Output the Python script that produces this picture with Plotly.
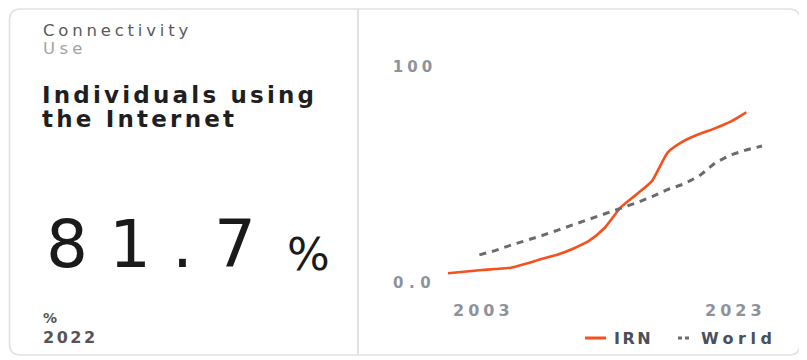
import plotly.graph_objects as go

# ---------------- data ----------------
irn_years = list(range(2003, 2023))
irn_values = [4.5, 5.2, 5.9, 6.5, 7.1, 9.0, 11.2, 13.2, 16.0, 19.6,
              25.7, 35.0, 41.0, 47.3, 60.5, 65.7, 69.0, 71.6, 74.7, 79.0]
world_years = list(range(2005, 2024))
world_values = [13.0, 15.0, 17.5, 19.6, 22.0, 24.5, 27.0, 29.5, 32.0, 34.6,
                37.1, 40.0, 43.3, 45.8, 49.5, 55.5, 59.3, 61.6, 63.4]
series_names = ["IRN", "World"]
series_colors = ["#f4511e", "#6b6b6b"]
y_tick_vals = [0, 100]
y_tick_text = ["0.0", "100"]
x_label_years = [2003, 2023]

headline_value = "81.7"
headline_unit = "%"
unit_label = "%"
latest_year = "2022"
category = "Connectivity"
subcategory = "Use"
title_lines = ["Individuals using", "the Internet"]

# ---------------- layout helpers ----------------
OFF = 8                      # page body margin
PAGE_W, PAGE_H = 807, 360
FW, FH = PAGE_W - OFF, PAGE_H - OFF


def px(x):
    return (x - OFF) / FW


def py(y):
    return 1 - (y - OFF) / FH


def ls(text, spacing):
    return f"<span style='letter-spacing:{spacing}px'>{text}</span>"


FONT = "DejaVu Sans"

fig = go.Figure()
fig.add_trace(go.Scatter(
    x=irn_years, y=irn_values, name=series_names[0], mode="lines",
    line=dict(color=series_colors[0], width=2.6, shape="spline", smoothing=0.6),
    hoverinfo="skip", showlegend=False))
fig.add_trace(go.Scatter(
    x=world_years, y=world_values, name=series_names[1], mode="lines",
    line=dict(color=series_colors[1], width=3, dash="7px,6px"),
    hoverinfo="skip", showlegend=False))

# axis geometry (page pixels)
x_first_px, x_last_px = 448, 762
ppy = (x_last_px - x_first_px) / (x_label_years[1] - x_label_years[0])
pad_yr = 0.5
y0_px, y100_px = 283, 67
ppu = (y0_px - y100_px) / 100
pad_v = 5

fig.update_xaxes(
    range=[x_label_years[0] - pad_yr, x_label_years[1] + pad_yr],
    domain=[px(x_first_px - pad_yr * ppy), px(x_last_px + pad_yr * ppy)],
    showgrid=False, zeroline=False, showline=False, showticklabels=False,
    fixedrange=True)
fig.update_yaxes(
    range=[-pad_v, 100 + pad_v],
    domain=[py(y0_px + pad_v * ppu), py(y100_px - pad_v * ppu)],
    tickvals=y_tick_vals,
    ticktext=[ls(t, 5.5 if "." in t else 4) for t in y_tick_text],
    showgrid=False, zeroline=False, showline=False, ticks="",
    ticklabelstandoff=3,
    tickfont=dict(family=FONT, size=15, color="#8e939b", weight="bold"),
    fixedrange=True)

# x labels: first left aligned, last right aligned
fig.add_annotation(x=x_label_years[0], xref="x", y=py(310), yref="paper",
                   text=ls(str(x_label_years[0]), 4), showarrow=False,
                   xanchor="left", yanchor="middle", xshift=3,
                   font=dict(family=FONT, size=16, color="#8e939b", weight="bold"))
fig.add_annotation(x=x_label_years[1], xref="x", y=py(310), yref="paper",
                   text=ls(str(x_label_years[1]), 4), showarrow=False,
                   xanchor="right", yanchor="middle", xshift=6,
                   font=dict(family=FONT, size=16, color="#8e939b", weight="bold"))

# ---------------- card ----------------
def rrect(x0, y0, x1, y1, r):
    pts = [
        f"M {px(x0 + r)},{py(y0)}",
        f"L {px(x1 - r)},{py(y0)}",
        f"Q {px(x1)},{py(y0)} {px(x1)},{py(y0 + r)}",
        f"L {px(x1)},{py(y1 - r)}",
        f"Q {px(x1)},{py(y1)} {px(x1 - r)},{py(y1)}",
        f"L {px(x0 + r)},{py(y1)}",
        f"Q {px(x0)},{py(y1)} {px(x0)},{py(y1 - r)}",
        f"L {px(x0)},{py(y0 + r)}",
        f"Q {px(x0)},{py(y0)} {px(x0 + r)},{py(y0)}",
        "Z",
    ]
    return " ".join(pts)


shapes = [
    dict(type="path", xref="paper", yref="paper", layer="below",
         path=rrect(9.5, 9, 800, 355, 11),
         line=dict(color="#e2e2e2", width=1.6), fillcolor="white"),
    dict(type="line", xref="paper", yref="paper", layer="below",
         x0=px(358), x1=px(358), y0=py(9), y1=py(355),
         line=dict(color="#e2e2e2", width=2)),
]

# ---------------- manual legend ----------------
leg_y = 338
legend_items = [
    # (line start, line end, text left, dash, spacing)
    (585, 606, 612, "solid", 2.5),
    (678, 691, 699, "4px,3px", 4.5),
]
for (lx0, lx1, tx, dash, sp), name, color in zip(legend_items, series_names, series_colors):
    shapes.append(dict(type="line", xref="paper", yref="paper",
                       x0=px(lx0), x1=px(lx1), y0=py(leg_y), y1=py(leg_y),
                       line=dict(color=color, width=3, dash=dash)))
    fig.add_annotation(x=px(tx), y=py(leg_y), xref="paper", yref="paper",
                       text=ls(name, sp), showarrow=False, xanchor="left",
                       yanchor="middle",
                       font=dict(family=FONT, size=16, color="#4a4f5a", weight="bold"))


# ---------------- left panel text ----------------
def txt(x, y, text, size, color, weight="normal", xanchor="left", yanchor="middle"):
    fig.add_annotation(x=px(x), y=py(y), xref="paper", yref="paper", text=text,
                       showarrow=False, xanchor=xanchor, yanchor=yanchor,
                       font=dict(family=FONT, size=size, color=color, weight=weight))


txt(41, 30, ls(category, 3.8), 16.5, "#5a5a5a")
txt(41, 49, ls(subcategory, 4.3), 16.5, "#a3a3a3")
txt(40, 95, ls(title_lines[0], 3.2), 23, "#1f1f1f", weight="bold")
txt(40, 119, ls(title_lines[1], 3.2), 23, "#1f1f1f", weight="bold")
txt(44, 244, ls(headline_value, 21), 66, "#1a1a1a")
txt(285, 254, headline_unit, 45, "#1a1a1a")
txt(41, 318, unit_label, 14, "#555555", weight="bold")
txt(41, 337, ls(latest_year, 2.5), 16, "#555555", weight="bold")

fig.update_layout(
    width=FW, height=FH,
    margin=dict(l=0, r=0, t=0, b=0),
    paper_bgcolor="white", plot_bgcolor="rgba(0,0,0,0)",
    shapes=shapes,
    showlegend=False,
)

fig.write_html("out.html")
